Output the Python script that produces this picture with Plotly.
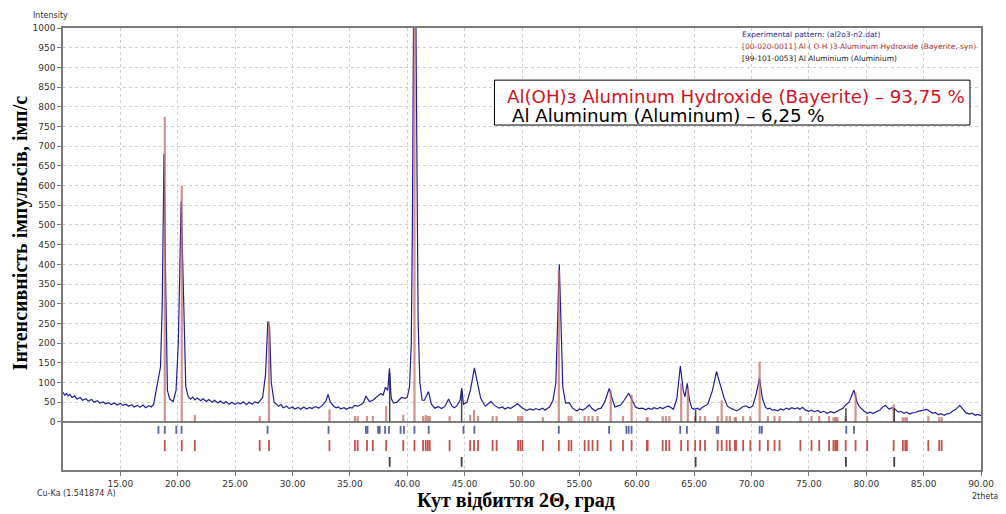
import plotly.graph_objects as go

# ---------------- data ----------------
exp_2theta = [10.0, 10.15, 10.3, 10.45, 10.6, 10.8, 11.0, 11.2, 11.5, 11.7, 12.0, 12.2, 12.5, 12.7, 13.0,
              13.2, 13.5, 13.7, 14.0, 14.2, 14.5, 14.7, 15.0, 15.2, 15.5, 15.7, 16.0, 16.2, 16.5, 16.7,
              17.0, 17.2, 17.5, 17.7, 17.9, 18.1, 18.3, 18.5, 18.65, 18.8, 18.95, 19.1, 19.3, 19.6, 19.85,
              20.05, 20.3, 20.5, 20.7, 20.9, 21.1, 21.3, 21.5, 21.7, 22.0, 22.2, 22.5, 22.7, 23.0, 23.2,
              23.5, 23.7, 24.0, 24.2, 24.5, 24.7, 25.0, 25.2, 25.5, 25.7, 26.0, 26.2, 26.5, 26.7, 27.0,
              27.2, 27.4, 27.65, 27.85, 28.0, 28.15, 28.4, 28.6, 28.8, 29.0, 29.2, 29.5, 29.7, 30.0,
              30.2, 30.5, 30.7, 31.0, 31.2, 31.5, 31.7, 32.0, 32.3, 32.6, 32.9, 33.1, 33.3, 33.6, 33.8,
              34.0, 34.2, 34.5, 34.7, 35.0, 35.2, 35.4, 35.7, 36.0, 36.2, 36.4, 36.7, 37.0, 37.2, 37.4,
              37.7, 37.9, 38.1, 38.3, 38.45, 38.6, 38.8, 39.1, 39.3, 39.5, 39.8, 40.0, 40.2, 40.35, 40.45,
              40.55, 40.75, 40.85, 40.95, 41.1, 41.3, 41.5, 41.85, 42.1, 42.4, 42.7, 43.0, 43.3, 43.6,
              43.9, 44.1, 44.3, 44.6, 44.75, 44.9, 45.2, 45.5, 45.85, 46.1, 46.4, 46.8, 47.0, 47.3,
              47.6, 47.8, 48.0, 48.3, 48.5, 48.8, 49.0, 49.3, 49.6, 50.0, 50.2, 50.4, 50.7, 51.0, 51.2,
              51.5, 51.8, 52.0, 52.2, 52.4, 52.7, 52.95, 53.1, 53.25, 53.4, 53.55, 53.8, 54.1, 54.4,
              54.6, 54.8, 55.0, 55.3, 55.6, 55.86, 56.1, 56.4, 56.6, 56.9, 57.2, 57.6, 57.9, 58.1,
              58.3, 58.6, 58.9, 59.3, 59.6, 59.9, 60.2, 60.5, 60.8, 61.0, 61.3, 61.5, 61.8, 62.0, 62.3,
              62.5, 62.8, 63.0, 63.2, 63.5, 63.8, 64.05, 64.2, 64.4, 64.6, 64.8, 65.0, 65.3, 65.5, 65.7,
              66.0, 66.2, 66.6, 66.95, 67.3, 67.6, 67.9, 68.1, 68.3, 68.5, 68.7, 69.0, 69.2, 69.5, 69.8,
              70.1, 70.4, 70.7, 70.95, 71.2, 71.4, 71.6, 71.8, 72.0, 72.3, 72.5, 72.8, 73.0, 73.3, 73.5,
              73.8, 74.0, 74.2, 74.45, 74.7, 75.0, 75.2, 75.5, 75.8, 76.0, 76.3, 76.6, 76.9, 77.2, 77.5,
              77.7, 78.0, 78.2, 78.5, 78.93, 79.2, 79.4, 79.6, 79.8, 80.1, 80.3, 80.6, 80.9, 81.2, 81.4,
              81.67, 82.0, 82.2, 82.4, 82.6, 82.8, 83.0, 83.3, 83.5, 83.8, 84.0, 84.3, 84.5, 84.8, 85.0,
              85.27, 85.5, 85.8, 86.0, 86.3, 86.5, 86.8, 87.0, 87.3, 87.5, 87.8, 88.15, 88.5, 88.7,
              89.0, 89.2, 89.5, 89.7, 90.0]
exp_intensity = [75, 68, 72, 66, 70, 62, 66, 58, 62, 55, 59, 53, 57, 50, 54,
                 48, 51, 46, 49, 44, 48, 43, 47, 42, 45, 40, 44, 38, 42, 37,
                 43, 36, 41, 38, 45, 80, 105, 140, 300, 680, 350, 80, 58, 52, 80,
                 200, 560, 300, 90, 65, 58, 63, 56, 61, 54, 59, 52, 57, 50, 55,
                 48, 53, 47, 52, 45, 50, 44, 49, 46, 51, 44, 50, 45, 51, 48,
                 55, 62, 120, 255, 240, 100, 50, 45, 40, 44, 36, 40, 34, 38,
                 33, 37, 32, 38, 33, 37, 34, 39, 35, 42, 52, 70, 50, 40, 36,
                 38, 33, 36, 32, 37, 35, 42, 40, 45, 50, 66, 52, 55, 60, 65,
                 72, 68, 88, 80, 136, 60, 48, 50, 55, 62, 60, 62, 90, 200, 500,
                 1030, 1030, 600, 250, 100, 55, 55, 77, 45, 35, 39, 34, 40, 58,
                 40, 36, 40, 55, 86, 45, 50, 80, 137, 100, 60, 40, 44, 52,
                 42, 38, 35, 38, 33, 37, 34, 40, 46, 36, 32, 29, 33, 30, 34,
                 31, 35, 30, 34, 38, 55, 100, 250, 400, 250, 90, 48, 49, 35,
                 31, 28, 33, 30, 36, 43, 34, 28, 33, 35, 50, 85, 55, 38,
                 40, 43, 55, 73, 55, 38, 34, 35, 31, 35, 32, 36, 33, 37, 34,
                 38, 40, 35, 32, 60, 142, 80, 64, 98, 55, 35, 32, 35, 31, 37,
                 41, 45, 80, 128, 92, 62, 40, 36, 33, 31, 28, 33, 38, 41, 36,
                 40, 70, 111, 60, 38, 33, 35, 30, 31, 28, 33, 30, 35, 32, 36,
                 33, 36, 32, 37, 30, 27, 30, 26, 29, 24, 27, 22, 26, 23, 28,
                 30, 35, 43, 50, 81, 50, 39, 33, 28, 22, 25, 22, 27, 30, 37,
                 42, 32, 36, 35, 30, 25, 27, 22, 25, 20, 23, 24, 27, 28, 30,
                 32, 27, 22, 24, 18, 21, 17, 20, 22, 27, 32, 42, 28, 23,
                 20, 22, 17, 19, 16]

# Bayerite reference pattern [00-020-0011]
bay_pos = [18.87, 20.35, 21.49, 27.14, 27.95, 33.22, 35.44, 35.68, 36.49, 37.0, 38.16, 39.65, 40.63,
           41.38, 41.61, 41.79, 41.96, 43.69, 45.48, 45.82, 46.17, 47.44, 47.79, 49.66, 49.86, 50.03,
           51.82, 53.21, 54.07, 54.30, 55.46, 55.80, 56.15, 56.58, 57.73, 58.80, 59.55, 60.88, 60.95,
           62.26, 62.55, 62.84, 63.87, 64.45, 65.09, 65.52, 65.95, 67.05, 67.40, 67.83, 68.11, 68.55,
           68.65, 69.27, 69.90, 70.71, 71.43, 72.01, 72.44, 74.26, 75.23, 75.90, 76.76, 77.14, 77.30,
           77.40, 77.48, 78.21, 79.07, 80.08, 82.39, 83.19, 83.40, 83.54, 85.41, 86.36, 86.57]
bay_int = [775, 600, 18, 15, 255, 32, 15, 15, 15, 15, 40, 18, 1000,
           15, 18, 15, 15, 15, 18, 30, 15, 15, 15, 15, 15, 15,
           12, 385, 15, 15, 15, 15, 15, 15, 80, 15, 69, 12, 12,
           15, 15, 15, 98, 86, 15, 15, 15, 15, 55, 15, 15, 12,
           12, 15, 15, 153, 15, 15, 15, 15, 15, 15, 15, 12, 12,
           12, 12, 15, 75, 15, 45, 12, 12, 12, 15, 12, 12]

# Aluminium reference pattern [99-101-0053]
al_pos = [38.47, 44.74, 65.13, 78.23, 82.44]
al_int = [125, 80, 30, 35, 35]

# peaks found in the experimental pattern
exp_peak_pos = [18.32, 18.87, 19.87, 20.33, 27.83, 33.14, 36.40, 36.54, 37.46, 37.60, 38.07, 38.41,
                39.42, 39.71, 40.63, 41.87, 44.90, 45.85, 53.21, 57.59, 59.10, 59.30, 59.55, 63.79,
                64.37, 66.96, 67.10, 70.71, 70.90, 78.26, 78.93]

x_ticks = [15, 20, 25, 30, 35, 40, 45, 50, 55, 60, 65, 70, 75, 80, 85, 90]
y_ticks = list(range(0, 1001, 50))

# ---------------- helpers ----------------
def stick_xy(pos, bottoms, tops):
    xs, ys = [], []
    for p, b, t in zip(pos, bottoms, tops):
        xs += [p, p, None]
        ys += [b, t, None]
    return xs, ys

fig = go.Figure()

# experimental pattern
fig.add_trace(go.Scatter(x=exp_2theta, y=exp_intensity, mode="lines",
                         line=dict(color="#1f1f9c", width=1.2), hoverinfo="skip"))

# bayerite sticks in main plot
sx, sy = stick_xy(bay_pos, [0] * len(bay_pos), bay_int)
fig.add_trace(go.Scatter(x=sx, y=sy, mode="lines",
                         line=dict(color="rgba(196,110,100,0.75)", width=2.2), hoverinfo="skip"))
# aluminium sticks in main plot
sx, sy = stick_xy(al_pos, [0] * len(al_pos), al_int)
fig.add_trace(go.Scatter(x=sx, y=sy, mode="lines",
                         line=dict(color="rgba(40,40,40,0.85)", width=1.5), hoverinfo="skip"))

# strips below zero
sx, sy = stick_xy(exp_peak_pos, [-10] * len(exp_peak_pos), [-30] * len(exp_peak_pos))
fig.add_trace(go.Scatter(x=sx, y=sy, mode="lines",
                         line=dict(color="#5866a6", width=1.8), hoverinfo="skip"))
sx, sy = stick_xy(bay_pos, [-46] * len(bay_pos), [-74] * len(bay_pos))
fig.add_trace(go.Scatter(x=sx, y=sy, mode="lines",
                         line=dict(color="#c4504c", width=1.8), hoverinfo="skip"))
sx, sy = stick_xy(al_pos, [-89] * len(al_pos), [-114] * len(al_pos))
fig.add_trace(go.Scatter(x=sx, y=sy, mode="lines",
                         line=dict(color="#404040", width=1.8), hoverinfo="skip"))

tick_font = dict(family="DejaVu Sans", size=9, color="#333333")

fig.update_layout(
    width=1006, height=514,
    margin=dict(l=63, r=18, t=28, b=44),
    paper_bgcolor="white", plot_bgcolor="white",
    showlegend=False,
    xaxis=dict(range=[10, 90], tickvals=x_ticks, ticktext=[f"{v:.2f}" for v in x_ticks],
               showgrid=True, gridcolor="#cfcfcf", griddash="dot", gridwidth=1,
               showline=True, linecolor="#7a7a7a", linewidth=1.5, mirror=True,
               ticks="outside", ticklen=4, tickcolor="#7a7a7a", tickfont=tick_font,
               zeroline=False),
    yaxis=dict(range=[-122, 1000], tickvals=y_ticks, ticktext=[str(v) for v in y_ticks],
               showgrid=True, gridcolor="#cfcfcf", griddash="dot", gridwidth=1,
               showline=True, linecolor="#7a7a7a", linewidth=1.5, mirror=True,
               ticks="outside", ticklen=4, tickcolor="#7a7a7a", tickfont=tick_font,
               zeroline=False),
)

# zero line
fig.add_shape(type="line", xref="paper", yref="y", x0=0, x1=1, y0=0, y1=0,
              line=dict(color="#5a5a5a", width=1.5), layer="above")

# result box
fig.add_shape(type="rect", xref="paper", yref="paper", x0=0.470, x1=0.988, y0=0.7805, y1=0.882,
              fillcolor="white", line=dict(color="black", width=1), layer="above")

ann = []
ann.append(dict(text="Al(OH)з Aluminum Hydroxide (Bayerite) – 93,75 %", x=0.481, y=0.846,
                xref="paper", yref="paper", xanchor="left", yanchor="middle", showarrow=False,
                font=dict(family="DejaVu Sans", size=18.2, color="#d0141e")))
ann.append(dict(text="Al Aluminum (Aluminum) – 6,25 %", x=0.4865, y=0.801,
                xref="paper", yref="paper", xanchor="left", yanchor="middle", showarrow=False,
                font=dict(family="DejaVu Sans", size=18.2, color="black")))

# legend texts
leg_font = "DejaVu Sans"
ann.append(dict(text="Experimental pattern: (al2o3-n2.dat)", x=0.737, y=0.986, xref="paper", yref="paper",
                xanchor="left", yanchor="middle", showarrow=False,
                font=dict(family=leg_font, size=7.5, color="#2b2ba0")))
ann.append(dict(text="[00-020-0011] Al ( O H )3 Aluminum Hydroxide (Bayerite, syn)", x=0.737, y=0.959,
                xref="paper", yref="paper", xanchor="left", yanchor="middle", showarrow=False,
                font=dict(family=leg_font, size=7.5, color="#b03a3a")))
ann.append(dict(text="[99-101-0053] Al Aluminium (Aluminium)", x=0.737, y=0.932, xref="paper", yref="paper",
                xanchor="left", yanchor="middle", showarrow=False,
                font=dict(family=leg_font, size=7.5, color="#202020")))

# small labels
ann.append(dict(text="Intensity", x=-0.014, y=1.029, xref="paper", yref="paper", xanchor="center",
                yanchor="middle", showarrow=False, font=dict(family="DejaVu Sans", size=8, color="#333333")))
ann.append(dict(text="Cu-Ka (1.541874 A)", x=-0.031, y=-0.054, xref="paper", yref="paper", xanchor="left",
                yanchor="middle", showarrow=False, font=dict(family="DejaVu Sans", size=8, color="#333333")))
ann.append(dict(text="2theta", x=0.988, y=-0.059, xref="paper", yref="paper", xanchor="left",
                yanchor="middle", showarrow=False, font=dict(family="DejaVu Sans", size=8, color="#333333")))

# axis titles
ann.append(dict(text="<b>Інтенсивність імпульсів, імп/с</b>", x=-0.0465, y=0.536, xref="paper", yref="paper",
                xanchor="center", yanchor="middle", textangle=-90, showarrow=False,
                font=dict(family="Liberation Serif", size=20, color="black")))
ann.append(dict(text="<b>Кут відбиття 2Θ, град</b>", x=0.494, y=-0.068, xref="paper", yref="paper",
                xanchor="center", yanchor="middle", showarrow=False,
                font=dict(family="Liberation Serif", size=20, color="black")))

fig.update_layout(annotations=ann)

fig.write_html("out.html", config={"displayModeBar": False},
               post_script="document.body.style.margin='0';document.body.style.overflow='hidden';")
